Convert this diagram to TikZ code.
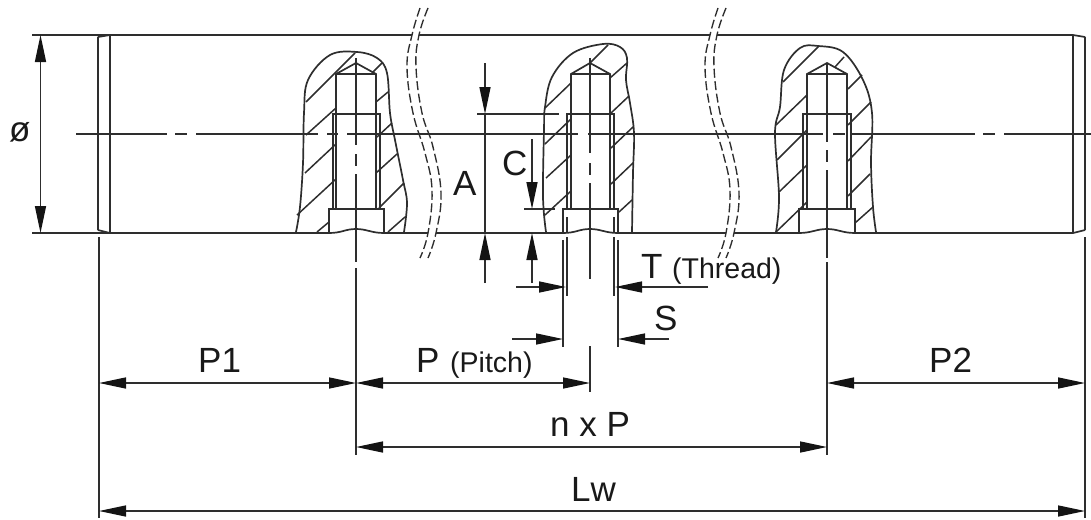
\documentclass[tikz,border=0pt]{standalone}
\usepackage{fontspec}
\setmainfont{Liberation Sans}
\usetikzlibrary{arrows.meta}
\definecolor{ink}{HTML}{2E2E2E}
\definecolor{tipc}{HTML}{141414}
\tikzset{
  part/.style={draw=ink,line width=1.7pt,line join=miter},
  thin part/.style={draw=ink,line width=1.5pt},
  breakline/.style={draw=ink,line width=1.35pt,dash pattern=on 9pt off 3.5pt},
  dimtip/.style={-{Triangle[length=27pt,width=11pt,fill=tipc,color=tipc]}},
  dimboth/.style={{Triangle[length=27pt,width=11pt,fill=tipc,color=tipc]}-{Triangle[length=27pt,width=11pt,fill=tipc,color=tipc]}},
  big/.style={inner sep=0pt,anchor=base west,text=black!90,font=\fontsize{35}{35}\selectfont},
  small/.style={inner sep=0pt,anchor=base west,text=black!90,font=\fontsize{28.5}{28.5}\selectfont}
}
\begin{document}
\begin{tikzpicture}[x=1pt,y=-1pt]
\useasboundingbox (0,0) rectangle (1091,519);
% body
\draw[part] (32,35) -- (412,35) (419,35) -- (710,35) (717,35) -- (1073,35);
\draw[part] (32,233) -- (329,233) (384,233) -- (428,233) (436,233) -- (563,233) (618,233) -- (726,233) (734,233) -- (799,233) (855,233) -- (1073,233);
\draw[part] (110,35) -- (110,233) (98,37) -- (98,230) (98,37) -- (110,35) (98,230) -- (110,233);
\draw[part] (1073,35) -- (1073,233) (1085,37) -- (1085,230) (1073,35) -- (1085,37) (1073,233) -- (1085,230);
% centre line
\draw[thin part] (76,134) -- (167,134) (175,134) -- (187,134) (196,134) -- (318,134) (327,134) -- (338,134) (347,134) -- (578,134) (588,134) -- (823,134) (833,134) -- (845,134) (852,134) -- (975,134) (983,134) -- (995,134) (1004,134) -- (1091,134);
% vertical axes
\draw[thin part] (356,58) -- (356,145) (356,154) -- (356,166) (356,174) -- (356,262) (356,268) -- (356,455);
\draw[thin part] (590,58) -- (590,153) (590,163) -- (590,175) (590,183) -- (590,279) (590,346) -- (590,392);
\draw[thin part] (827,63) -- (827,142) (827,150) -- (827,162) (827,170) -- (827,258) (827,262) -- (827,455);
% breaks
\foreach \d in {0,298}{
  \begin{scope}[xshift=\d pt]
  \draw[breakline] plot[smooth,tension=.7] coordinates {(420,8) (412,35) (407,67) (413,113) (425,153) (432,190) (428,233) (420,258)};
  \draw[breakline] plot[smooth,tension=.7] coordinates {(428,8) (419,35) (416,67) (422,113) (433,147) (441,193) (436,233) (428,258)};
  \end{scope}
}
% hole 1
\draw[part] plot[smooth,tension=.6] coordinates {(296,232) (300,207) (303,163) (304,113) (308,80) (330,55) (357,52) (377,58) (387,73) (390,113) (395,140) (403,180) (407,203) (404,232)};
\draw[part] (336,209) -- (336,74) -- (356,63) -- (376,74) -- (376,209) (336,74) -- (376,74);
\draw[part] (333,209) -- (333,114) -- (380,114) -- (380,209);
\draw[part] (329,233) -- (329,209) -- (384,209) -- (384,233);
\draw[part] (329,233) .. controls (342,233) and (345,229) .. (356,229) .. controls (367,229) and (371,233) .. (384,233);
\draw[thin part] (306,102) -- (355,53) (372,73) -- (382,63) (376,102) -- (388,92)
 (306,135) -- (336,108) (377,137) -- (392,123)
 (305,173) -- (336,144) (376,173) -- (397,154)
 (297,215) -- (336,179) (379,208) -- (404,183)
 (317,232) -- (329,222) (388,232) -- (405,217);
% hole 2
\draw[part] plot[smooth,tension=.6] coordinates {(546,232) (543,197) (544,130) (545,107) (552,77) (573,53) (603,44) (620,47) (627,58) (626,80) (630,103) (634,133) (633,173) (632,232)};
\draw[part] (571,209) -- (571,74) -- (590,63) -- (610,74) -- (610,209) (571,74) -- (610,74);
\draw[part] (567,209) -- (567,114) -- (614,114) -- (614,209);
\draw[part] (563,233) -- (563,209) -- (618,209) -- (618,233);
\draw[part] (563,233) .. controls (576,233) and (579,229) .. (590,229) .. controls (601,229) and (605,233) .. (618,233);
\draw[thin part] (545,108) -- (571,83) (590,63) -- (608,45) (610,78) -- (627,63)
 (545,144) -- (571,119) (611,113) -- (629,96)
 (546,178) -- (571,155) (611,148) -- (633,127)
 (545,215) -- (571,191) (611,184) -- (633,163) (619,212) -- (632,200);
% thread and S lines at hole 2
\draw[thin part] (567,217) -- (567,232) (567,237) -- (567,296) (614,217) -- (614,232) (614,237) -- (614,296);
\draw[thin part] (563,240) -- (563,347) (618,240) -- (618,347);
% hole 3
\draw[part] plot[smooth,tension=.6] coordinates {(776,232) (779,197) (775,133) (780,107) (784,70) (800,48) (818,46) (843,52) (863,80) (872,113) (871,163) (873,207) (876,232)};
\draw[part] (807,209) -- (807,74) -- (827,63) -- (847,74) -- (847,209) (807,74) -- (847,74);
\draw[part] (803,209) -- (803,114) -- (851,114) -- (851,209);
\draw[part] (799,233) -- (799,209) -- (855,209) -- (855,233);
\draw[part] (799,233) .. controls (812,233) and (816,229) .. (827,229) .. controls (838,229) and (842,233) .. (855,233);
\draw[thin part] (783,82) -- (819,46) (835,67) -- (844,57) (848,89) -- (862,75)
 (776,125) -- (807,95) (848,125) -- (871,102)
 (777,160) -- (807,130) (848,161) -- (871,137)
 (779,192) -- (807,165) (848,196) -- (870,174)
 (776,232) -- (807,202) (855,223) -- (873,207);
% dimension anchors
\coordinate (xl) at (99,237);
\coordinate (xr) at (1085,237);
\coordinate (xlb) at (99,518);
\coordinate (xrb) at (1085,518);
\draw[thin part] (xl) -- (xlb) (xr) -- (xrb);
\coordinate (p1a) at (99,383); \coordinate (p1b) at (356,383);
\coordinate (pa) at (356,383); \coordinate (pb) at (590,383);
\coordinate (p2a) at (827,383); \coordinate (p2b) at (1085,383);
\coordinate (na) at (356,447); \coordinate (nb) at (827,447);
\coordinate (la) at (99,511); \coordinate (lb) at (1085,511);
\draw[thin part,dimboth] (p1a) -- (p1b);
\draw[thin part,dimboth] (pa) -- (pb);
\draw[thin part,dimboth] (p2a) -- (p2b);
\draw[thin part,dimboth] (na) -- (nb);
\draw[thin part,dimboth] (la) -- (lb);
% diameter
\coordinate (da) at (40.5,35); \coordinate (db) at (40.5,233);
\draw[thin part,dimboth] (da) -- (db);
% A
\coordinate (a0) at (485,63); \coordinate (a1) at (485,114);
\coordinate (a2) at (485,283); \coordinate (a3) at (485,233);
\draw[thin part,dimtip] (a0) -- (a1);
\draw[thin part,dimtip] (a2) -- (a3);
\draw[thin part] (a1) -- (a3);
\draw[thin part] (477,114) -- (559,114);
% C
\coordinate (c0) at (532,139); \coordinate (c1) at (532,209);
\coordinate (c2) at (532,283); \coordinate (c3) at (532,233);
\draw[thin part,dimtip] (c0) -- (c1);
\draw[thin part,dimtip] (c2) -- (c3);
\draw[thin part] (524,209) -- (555,209);
% T
\coordinate (t0) at (516,287); \coordinate (t1) at (566,287);
\coordinate (t2) at (708,287); \coordinate (t3) at (615,287);
\draw[thin part,dimtip] (t0) -- (t1);
\draw[thin part,dimtip] (t2) -- (t3);
% S
\coordinate (s0) at (512,339); \coordinate (s1) at (563,339);
\coordinate (s2) at (669,339); \coordinate (s3) at (618,339);
\draw[thin part,dimtip] (s0) -- (s1);
\draw[thin part,dimtip] (s2) -- (s3);
% labels
\node[big] (lphi) at (9,141) {ø};
\node[big] (lA) at (453,195) {A};
\node[big] (lC) at (502,175) {C};
\node[big] (lT) at (641,278) {T};
\node[small] (lThread) at (672,278) {(Thread)};
\node[big] (lS) at (654,330) {S};
\node[big] (lP1) at (198,372) {P1};
\node[big] (lP) at (416,372) {P};
\node[small] (lPitch) at (450,372) {(Pitch)};
\node[big] (lP2) at (929,372) {P2};
\node[big] (lnP) at (550,436) {n x P};
\node[big] (lLw) at (571,501) {Lw};
\end{tikzpicture}
\end{document}
